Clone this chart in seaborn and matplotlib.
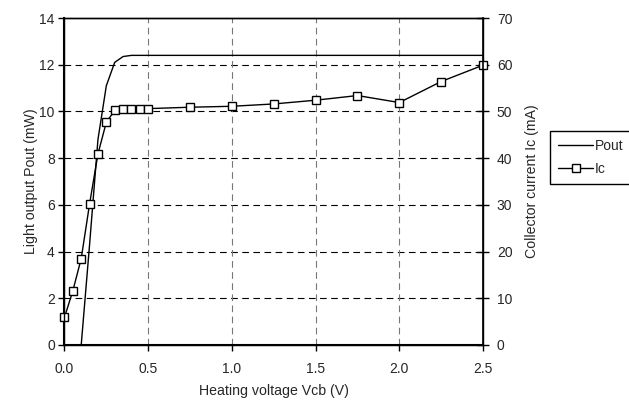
import matplotlib
matplotlib.use("Agg")
import matplotlib.pyplot as plt
import seaborn as sns
import pandas as pd
from matplotlib.lines import Line2D

# Heating voltage sweep (V)
vcb = [0.0, 0.05, 0.1, 0.15, 0.2, 0.25, 0.3, 0.35, 0.4, 0.45, 0.5,
       0.75, 1.0, 1.25, 1.5, 1.75, 2.0, 2.25, 2.5]
# Light output Pout (mW)
pout = [0.0, 0.0, 0.0, 4.3, 8.8, 11.1, 12.1, 12.35, 12.4, 12.4, 12.4,
        12.4, 12.4, 12.4, 12.4, 12.4, 12.4, 12.4, 12.4]
# Collector current Ic (mA)
ic = [5.9, 11.6, 18.5, 30.2, 40.9, 47.7, 50.2, 50.6, 50.6, 50.6, 50.6,
      50.9, 51.1, 51.6, 52.4, 53.4, 51.9, 56.4, 59.9]

x_ticks = [0.0, 0.5, 1.0, 1.5, 2.0, 2.5]
left_ticks = [0, 2, 4, 6, 8, 10, 12, 14]
right_ticks = [0, 10, 20, 30, 40, 50, 60, 70]

df = pd.DataFrame({"vcb": vcb, "pout": pout, "ic": ic})

sns.set_theme(style="white")
plt.rcParams["font.family"] = ["Liberation Sans", "DejaVu Sans"]
plt.rcParams["font.size"] = 10

fig = plt.figure(figsize=(6.29, 4.01), dpi=100)
ax = fig.add_axes([0.1025, 0.1397, 0.6654, 0.8154])
ax2 = ax.twinx()

# gridlines
for y in left_ticks[1:-1]:
    ax.axhline(y, color="black", lw=0.8, ls=(0, (6, 4)), zorder=0)
for x in x_ticks[1:-1]:
    ax.axvline(x, color="#777777", lw=0.8, ls=(0, (6, 4)), zorder=0)

sns.lineplot(data=df, x="vcb", y="pout", ax=ax, color="black", lw=1.0,
             legend=False)
sns.lineplot(data=df, x="vcb", y="ic", ax=ax2, color="black", lw=1.0,
             marker="s", markersize=5.5, markerfacecolor="white",
             markeredgecolor="black", markeredgewidth=1.0, legend=False,
             clip_on=False)

ax.set_xlim(0, 2.5)
ax.set_ylim(0, 14)
ax2.set_ylim(0, 70)
ax.set_xticks(x_ticks)
ax.set_xticklabels([f"{v:.1f}" for v in x_ticks])
ax.set_yticks(left_ticks)
ax2.set_yticks(right_ticks)

ax.set_xlabel("Heating voltage Vcb (V)", fontsize=10.2, labelpad=6)
ax.set_ylabel("Light output Pout (mW)", fontsize=10.2, labelpad=1)
ax2.set_ylabel("Collector current Ic (mA)", fontsize=10.2, labelpad=9)

for a in (ax, ax2):
    for s in a.spines.values():
        s.set_color("black")
        s.set_linewidth(1.0)
ax.spines["left"].set_linewidth(1.5)
ax.spines["bottom"].set_linewidth(1.5)
ax2.spines["right"].set_linewidth(1.2)

ax.tick_params(axis="x", direction="out", length=4, width=1, color="black",
               labelsize=10, pad=8, bottom=True)
ax.tick_params(axis="y", direction="out", length=4, width=1, color="black",
               labelsize=10, pad=3, left=True)
ax2.tick_params(axis="y", direction="inout", length=8, width=1,
                color="black", labelsize=10, pad=6, right=True)

handles = [
    Line2D([], [], color="black", lw=1.0),
    Line2D([], [], color="black", lw=1.0, marker="s", markersize=5.5,
           markerfacecolor="white", markeredgecolor="black"),
]
leg = fig.legend(handles, ["Pout", "Ic"], loc="upper left",
                 bbox_to_anchor=(550 / 629, 1 - 131 / 401),
                 frameon=True, fancybox=False, shadow=False,
                 handlelength=2.5, handletextpad=0.15, borderpad=0.6,
                 labelspacing=0.6, fontsize=10, borderaxespad=0)
leg.get_frame().set_edgecolor("black")
leg.get_frame().set_linewidth(1.0)
leg.get_frame().set_alpha(1)

fig.savefig("out.png", dpi=100)
